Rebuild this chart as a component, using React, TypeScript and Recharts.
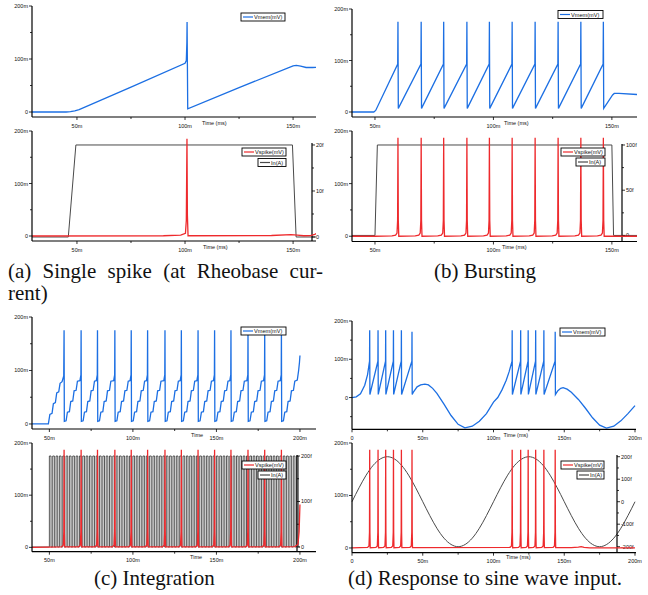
import React from 'react';
import { LineChart, Line, XAxis, YAxis } from 'recharts';

type P = [number, number];

const BLUE = '#1c6fe3';
const RED = '#ee2a2d';
const GREY = '#4a4a4a';
const PULSE = '#2e2e2e';
const FONT = '"Liberation Sans", Arial, sans-serif';
const SERIF = '"Liberation Serif", "Times New Roman", serif';

// ================= (a) Single spike =================
const aVmem: P[] = [
  [29.2, 0], [45, 0], [47, 0.6], [49, 2], [51, 4.5], [75, 47], [100, 92], [100.6, 97],
  [100.85, 130], [100.95, 170], [101.1, 90], [101.25, 6], [125, 46], [150, 87],
  [151.5, 88], [153.5, 86.5], [156, 84], [159, 84], [161, 84.5],
];
const aVspike: P[] = [
  [29.2, 0], [90, 0.5], [98, 1.5], [100.2, 5], [100.6, 30], [100.9, 185], [101.1, 40], [101.4, 0.5],
  [140, 1], [149, 2.5], [152, 1.5], [155, 0.5], [158, 0.8], [160, 3], [161, 5],
];
const aIn: P[] = [[29.2, 0], [46, 0], [49.5, 20], [149.7, 20], [151.4, 0], [160.6, 0]];

// ================= (b) Bursting =================
const bVmem: P[] = [
  [40.3, 0], [49.5, 0], [50.3, 3],
  [59.6, 93], [59.7, 175], [59.85, 7],
  [69.4, 93], [69.5, 175], [69.65, 7],
  [78.9, 93], [79.0, 175], [79.15, 7],
  [88.7, 93], [88.8, 175], [88.95, 7],
  [98.2, 93], [98.3, 175], [98.45, 7],
  [107.8, 93], [107.9, 175], [108.05, 7],
  [117.5, 93], [117.6, 175], [117.75, 7],
  [127.2, 93], [127.3, 175], [127.45, 7],
  [136.8, 93], [136.9, 175], [137.05, 7],
  [146.3, 93], [146.4, 175], [146.55, 7],
  [150.3, 33], [151, 36], [153, 36], [160.6, 34],
];
const bSpikeTimes = [59.7, 69.5, 79.0, 88.8, 98.3, 107.9, 117.6, 127.3, 136.9, 146.4];
const bSpikeShape: P[] = [[-2.5, 0.5], [-1, 2], [-0.4, 6], [-0.15, 30], [0, 187], [0.15, 30], [0.35, 0]];
const bIn: P[] = [[40.3, 0], [50, 0], [51, 100], [150, 100], [150.7, 0], [160.6, 0]];

// ================= (c) Integration =================
const cSpikeTimes = [58.8, 69.0, 78.8, 89.2, 99.0, 108.8, 119.2, 129.0, 139.0, 148.9, 158.7, 168.9, 178.9, 188.9];
const cVmemOnset: P[] = [
  [39.6, 0], [49.4, 0], [50.3, 18], [51.6, 20], [52.4, 38], [53.6, 40], [54.4, 58], [55.6, 60],
  [56.4, 76], [57.6, 79], [58.6, 90],
];
const cStairAfterSpike: P[] = [[0.15, 5], [1.2, 6], [2.0, 22], [3.2, 23], [4.0, 42], [5.2, 43], [6.0, 62], [7.2, 63], [8.0, 80]];
const cStairBeforeSpike: P[] = [[-0.7, 81], [-0.12, 92]];
const cVmemPeak = 175;
const cVmemEnd: P[] = [[198.4, 82], [199.2, 100], [199.7, 115], [200, 128]];
const cSpikeShape: P[] = [[-1.5, 1], [-0.5, 4], [-0.15, 30], [0, 187], [0.15, 30], [0.35, 1]];
const cVspikeStart: P[] = [[39.6, 0], [49.5, 0.5]];
const cVspikeEnd: P[] = [[197, 1.5], [198.8, 6], [199.5, 30], [200, 82]];
const cPulseOnsets = [
  50, 52, 54, 56, 58, 60, 62, 64, 66, 68, 70, 72, 74, 76, 78, 80, 82, 84, 86, 88, 90, 92, 94, 96, 98,
  100, 102, 104, 106, 108, 110, 112, 114, 116, 118, 120, 122, 124, 126, 128, 130, 132, 134, 136, 138,
  140, 142, 144, 146, 148, 150, 152, 154, 156, 158, 160, 162, 164, 166, 168, 170, 172, 174, 176, 178,
  180, 182, 184, 186, 188, 190, 192, 194, 196, 198,
];
const cPulseWidth = 1;
const cPulseHigh = 200;

// ================= (d) Sine input =================
const dVmem: P[] = [
  [0, 0], [3, 2], [6, 10], [9, 32], [11, 60], [12.4, 95], [12.5, 176], [12.65, 8],
  [18.3, 95], [18.4, 176], [18.55, 8],
  [23.7, 95], [23.8, 176], [23.95, 8],
  [29.2, 95], [29.3, 176], [29.45, 8],
  [34.8, 95], [34.9, 176], [35.05, 8],
  [42.3, 95], [42.4, 172], [42.55, 8],
  [43.5, 15], [46, 28], [48.5, 33], [51.5, 35], [54, 33], [57, 24], [60, 11], [65, -17], [70, -47],
  [75, -70], [79.8, -79], [85, -75], [90, -62], [95, -42], [100, -12], [103, 0], [106, 20], [109, 45],
  [111, 67], [113.1, 95], [113.2, 176], [113.35, 8],
  [119.1, 95], [119.2, 176], [119.35, 8],
  [124.4, 95], [124.5, 176], [124.65, 8],
  [129.7, 95], [129.8, 176], [129.95, 8],
  [135.5, 95], [135.6, 176], [135.75, 8],
  [143.5, 95], [143.6, 172], [143.75, 8],
  [145.5, 18], [147.5, 24], [149.2, 26], [152, 22], [155, 14], [160, -5], [165, -28], [170, -53],
  [175, -72], [179.8, -80], [185, -75], [190, -61], [195, -42], [200, -21],
];
const dSpikeTimes = [12.5, 18.4, 23.8, 29.3, 34.9, 42.4, 113.2, 119.2, 124.5, 129.8, 135.6, 143.6];
const dSpikeShape: P[] = [[-1.5, 1], [-0.5, 4], [-0.15, 30], [0, 187], [0.15, 30], [0.35, 0.5]];
const dVspikeStart: P[] = [[0, 0]];
const dVspikeEnd: P[] = [[155, 0.5], [160, 1.5], [162, 2.5], [164, 1], [168, 0.3], [200, 0.3]];
const dInTime = [
  0, 5, 10, 15, 20, 25, 30, 35, 40, 45, 50, 55, 60, 65, 70, 75, 80, 85, 90, 95, 100,
  105, 110, 115, 120, 125, 130, 135, 140, 145, 150, 155, 160, 165, 170, 175, 180, 185, 190, 195, 200,
];
const dInCurrent = [
  0, 62, 118, 162, 190, 200, 190, 162, 118, 62, 0, -62, -118, -162, -190, -200, -190, -162, -118, -62, 0,
  62, 118, 162, 190, 200, 190, 162, 118, 62, 0, -62, -118, -162, -190, -200, -190, -162, -118, -62, 0,
];

// ================= ticks =================
const xTicksAB = [50, 75, 100, 125, 150];
const xMajorsAB = [50, 100, 150];
const xTicksC = [50, 75, 100, 125, 150, 175, 200];
const xMajorsC = [50, 100, 150, 200];
const xTicksD = [0, 25, 50, 75, 100, 125, 150, 175, 200];
const xMajorsD = [0, 50, 100, 150, 200];
const yTicksV = [0, 50, 100, 150, 200];
const yTicksVD = [-50, 0, 50, 100, 150, 200];
const yMajorsV = [0, 100, 200];
const rTicksA = [0, 5, 10, 15, 20];
const rMajorsA = [0, 10, 20];
const rTicksB = [0, 25, 50, 75, 100];
const rMajorsB = [0, 50, 100];
const rTicksC = [0, 50, 100, 150, 200];
const rMajorsC = [0, 100, 200];
const rTicksD = [-200, -150, -100, -50, 0, 50, 100, 150, 200];
const rMajorsD = [-200, -100, 0, 100, 200];

// ================= table builders =================
const spikeTrain = (start: P[], times: number[], shape: P[], end: P[]): P[] => [
  ...start,
  ...times.flatMap((s) => shape.map(([dt, v]) => [s + dt, v] as P)),
  ...end,
];

const buildStairs = (): P[] => {
  const out: P[] = [...cVmemOnset];
  cSpikeTimes.forEach((s, i) => {
    if (i > 0) cStairBeforeSpike.forEach(([dt, v]) => out.push([s + dt, v]));
    out.push([s, cVmemPeak]);
    cStairAfterSpike.forEach(([dt, v]) => out.push([s + dt, v]));
  });
  return [...out, ...cVmemEnd];
};

const buildPulses = (): P[] => [
  [39.6, 0],
  ...cPulseOnsets.flatMap((t) => [[t, 0], [t, cPulseHigh], [t + cPulseWidth, cPulseHigh], [t + cPulseWidth, 0]] as P[]),
  [200, 0],
];

const bVspike = spikeTrain([[40.3, 0], [50, 0]], bSpikeTimes, bSpikeShape, [[160.6, 0]]);
const cVmem = buildStairs();
const cVspike = spikeTrain(cVspikeStart, cSpikeTimes, cSpikeShape, cVspikeEnd);
const cIn = buildPulses();
const dVspike = spikeTrain(dVspikeStart, dSpikeTimes, dSpikeShape, dVspikeEnd);
const dIn: P[] = dInTime.map((t, i) => [t, dInCurrent[i]]);

// ================= rendering helpers =================
const fmtM = (v: number) => (v === 0 ? '0' : `${v}m`);
const fmtF = (v: number) => (v === 0 ? '0' : `${v}f`);

const PADL = 30;
const PADT = 8;
const PADR = 6;
const PADB = 16;
const RW = 28;

const makeTick = (side: 'left' | 'right' | 'bottom', majors: number[], fmt: (v: number) => string) =>
  (props: any) => {
    const { x, y, payload } = props;
    const v = payload.value as number;
    const major = majors.includes(v);
    const len = major ? 3 : 2;
    const common = { fontSize: 5.5, fontFamily: FONT, fill: '#111' };
    if (side === 'bottom') {
      return (
        <g>
          <line x1={x} x2={x} y1={y} y2={y + len} stroke="#000" strokeWidth={0.8} />
          {major && (
            <text x={x} y={y + 10.5} textAnchor="middle" {...common}>
              {fmt(v)}
            </text>
          )}
        </g>
      );
    }
    if (side === 'left') {
      return (
        <g>
          <line x1={x - len} x2={x} y1={y} y2={y} stroke="#000" strokeWidth={0.8} />
          {major && (
            <text x={x - 4} y={y + 2} textAnchor="end" {...common}>
              {fmt(v)}
            </text>
          )}
        </g>
      );
    }
    return (
      <g>
        <line x1={x} x2={x + len} y1={y} y2={y} stroke="#000" strokeWidth={0.8} />
        {major && (
          <text x={x + 4} y={y + 2} textAnchor="start" {...common}>
            {fmt(v)}
          </text>
        )}
      </g>
    );
  };

interface S {
  data: P[];
  color: string;
  w?: number;
  curve?: 'linear' | 'monotone';
}

const rows = (d: P[]) => d.map(([t, v]) => ({ t, v }));

const renderLines = (series: S[]) =>
  series.map((s, i) => (
    <Line
      key={i}
      data={rows(s.data)}
      dataKey="v"
      type={s.curve ?? 'linear'}
      stroke={s.color}
      strokeWidth={s.w ?? 1.3}
      dot={false}
      activeDot={false}
      isAnimationActive={false}
    />
  ));

const axisLine = { stroke: '#000', strokeWidth: 1.2 };

function BaseChart(p: {
  x0: number; x1: number; y0: number; y1: number;
  xd: [number, number]; yd: [number, number];
  xTicks: number[]; xMajors: number[]; yTicks: number[]; yMajors: number[];
  series: S[];
}) {
  const w = PADL + (p.x1 - p.x0) + PADR;
  const h = PADT + (p.y1 - p.y0) + PADB;
  return (
    <div style={{ position: 'absolute', left: p.x0 - PADL, top: p.y0 - PADT, width: w, height: h }}>
      <LineChart width={w} height={h} margin={{ top: PADT, right: PADR, bottom: 0, left: 0 }}>
        <XAxis
          type="number" dataKey="t" domain={p.xd} allowDataOverflow ticks={p.xTicks} interval={0}
          height={PADB} axisLine={axisLine} tickLine={false} tickSize={0} tickMargin={0}
          tick={makeTick('bottom', p.xMajors, fmtM)}
        />
        <YAxis
          type="number" domain={p.yd} allowDataOverflow ticks={p.yTicks} interval={0}
          width={PADL} axisLine={axisLine} tickLine={false} tickSize={0} tickMargin={0}
          tick={makeTick('left', p.yMajors, fmtM)}
        />
        {renderLines(p.series)}
      </LineChart>
    </div>
  );
}

function RightChart(p: {
  x0: number; x1: number; xr: number; yr0: number; y1: number;
  xd: [number, number]; rd: [number, number];
  rTicks: number[]; rMajors: number[]; series: S[];
}) {
  const w = PADL + (p.xr - p.x0) + RW;
  const h = PADT + (p.y1 - p.yr0) + PADB;
  return (
    <div style={{ position: 'absolute', left: p.x0 - PADL, top: p.yr0 - PADT, width: w, height: h }}>
      <LineChart width={w} height={h} margin={{ top: PADT, right: 0, bottom: PADB, left: PADL }}>
        <XAxis type="number" dataKey="t" domain={p.xd} hide padding={{ left: 0, right: -(p.x1 - p.xr) }} />
        <YAxis
          orientation="right" type="number" domain={p.rd} ticks={p.rTicks} interval={0}
          width={RW} axisLine={axisLine} tickLine={false} tickSize={0} tickMargin={0}
          tick={makeTick('right', p.rMajors, fmtF)}
        />
        {renderLines(p.series)}
      </LineChart>
    </div>
  );
}

const legendBoxes = [
  { x: 241, y: 13, w: 44, color: BLUE, label: 'Vmem(mV)' },
  { x: 242, y: 148, w: 44, color: RED, label: 'Vspike(mV)' },
  { x: 258, y: 158.5, w: 28, color: GREY, label: 'In(A)' },
  { x: 558, y: 10.5, w: 45, color: BLUE, label: 'Vmem(mV)' },
  { x: 561, y: 148, w: 44, color: RED, label: 'Vspike(mV)' },
  { x: 576, y: 158, w: 29, color: GREY, label: 'In(A)' },
  { x: 241, y: 327, w: 45, color: BLUE, label: 'Vmem(mV)' },
  { x: 242, y: 461, w: 44, color: RED, label: 'Vspike(mV)' },
  { x: 258, y: 471, w: 28, color: GREY, label: 'In(A)' },
  { x: 560, y: 328, w: 45, color: BLUE, label: 'Vmem(mV)' },
  { x: 561, y: 461, w: 43, color: RED, label: 'Vspike(mV)' },
  { x: 577, y: 471, w: 27, color: GREY, label: 'In(A)' },
];

const timeLabels = [
  { x: 202, y: 125.3, text: 'Time (ms)' },
  { x: 203, y: 249.3, text: 'Time (ms)' },
  { x: 504, y: 124.7, text: 'Time (ms)' },
  { x: 502, y: 248.7, text: 'Time (ms)' },
  { x: 191, y: 437, text: 'Time' },
  { x: 190, y: 559, text: 'Time' },
  { x: 503.5, y: 437, text: 'Time (ms)' },
  { x: 506, y: 559, text: 'Time (ms)' },
];

const captionStyle: React.CSSProperties = {
  position: 'absolute',
  fontFamily: SERIF,
  fontSize: 21,
  lineHeight: '20px',
  color: '#111',
  whiteSpace: 'nowrap',
};

export default function App() {
  const xdA: [number, number] = [29.2, 160.6];
  const xdB: [number, number] = [40.3, 160.6];
  const xdC: [number, number] = [39.6, 209.6];
  const xdD: [number, number] = [0, 200.7];
  return (
    <div style={{ position: 'absolute', left: 0, top: 0, width: 648, height: 595, background: '#fff', overflow: 'hidden' }}>
      {/* (a) */}
      <BaseChart x0={32} x1={316} y0={6} y1={117} xd={xdA} yd={[-9.4, 200]}
        xTicks={xTicksAB} xMajors={xMajorsAB} yTicks={yTicksV} yMajors={yMajorsV}
        series={[{ data: aVmem, color: BLUE }]} />
      <RightChart x0={32} x1={316} xr={312} yr0={143} y1={241} xd={xdA} rd={[-0.87, 20.43]}
        rTicks={rTicksA} rMajors={rMajorsA} series={[{ data: aIn, color: GREY, w: 1 }]} />
      <BaseChart x0={32} x1={316} y0={131} y1={241} xd={xdA} yd={[-9.5, 200]}
        xTicks={xTicksAB} xMajors={xMajorsAB} yTicks={yTicksV} yMajors={yMajorsV}
        series={[{ data: aVspike, color: RED }]} />

      {/* (b) */}
      <BaseChart x0={352} x1={637} y0={9} y1={117} xd={xdB} yd={[-9.7, 200]}
        xTicks={xTicksAB} xMajors={xMajorsAB} yTicks={yTicksV} yMajors={yMajorsV}
        series={[{ data: bVmem, color: BLUE }]} />
      <RightChart x0={352} x1={637} xr={622} yr0={144} y1={241.5} xd={xdB} rd={[-6.7, 101.1]}
        rTicks={rTicksB} rMajors={rMajorsB} series={[{ data: bIn, color: GREY, w: 1 }]} />
      <BaseChart x0={352} x1={637} y0={131} y1={241.5} xd={xdB} yd={[-10, 200]}
        xTicks={xTicksAB} xMajors={xMajorsAB} yTicks={yTicksV} yMajors={yMajorsV}
        series={[{ data: bVspike, color: RED }]} />

      {/* (c) */}
      <BaseChart x0={32} x1={316} y0={317} y1={429} xd={xdC} yd={[-9.4, 200]}
        xTicks={xTicksC} xMajors={xMajorsC} yTicks={yTicksV} yMajors={yMajorsV}
        series={[{ data: cVmem, color: BLUE }]} />
      <RightChart x0={32} x1={316} xr={297} yr0={455} y1={552} xd={xdC} rd={[-11, 202.2]}
        rTicks={rTicksC} rMajors={rMajorsC} series={[{ data: cIn, color: PULSE, w: 0.8 }]} />
      <BaseChart x0={32} x1={316} y0={443.3} y1={552} xd={xdC} yd={[-8.3, 200]}
        xTicks={xTicksC} xMajors={xMajorsC} yTicks={yTicksV} yMajors={yMajorsV}
        series={[{ data: cVspike, color: RED }]} />

      {/* (d) */}
      <BaseChart x0={352} x1={636} y0={320.7} y1={429} xd={xdD} yd={[-83, 200]}
        xTicks={xTicksD} xMajors={xMajorsD} yTicks={yTicksVD} yMajors={yMajorsV}
        series={[{ data: dVmem, color: BLUE }]} />
      <RightChart x0={352} x1={636} xr={617} yr0={455} y1={553} xd={xdD} rd={[-228, 207.6]}
        rTicks={rTicksD} rMajors={rMajorsD} series={[{ data: dIn, color: GREY, w: 1, curve: 'monotone' }]} />
      <BaseChart x0={352} x1={636} y0={443.3} y1={553} xd={xdD} yd={[-9, 200]}
        xTicks={xTicksD} xMajors={xMajorsD} yTicks={yTicksV} yMajors={yMajorsV}
        series={[{ data: dVspike, color: RED }]} />

      {/* legends and axis titles */}
      <svg width={648} height={595} style={{ position: 'absolute', left: 0, top: 0, pointerEvents: 'none' }}>
        {legendBoxes.map((b, i) => (
          <g key={i}>
            <rect x={b.x} y={b.y} width={b.w} height={8} fill="#fff" stroke="#000" strokeWidth={0.9} />
            <line x1={b.x + 2} x2={b.x + 12} y1={b.y + 4} y2={b.y + 4} stroke={b.color} strokeWidth={1.2} />
            <text x={b.x + 13} y={b.y + 6} fontSize={5.6} fontFamily={FONT} fill="#111">{b.label}</text>
          </g>
        ))}
        {timeLabels.map((t, i) => (
          <text key={i} x={t.x} y={t.y} fontSize={5.5} fontFamily={FONT} fill="#111">{t.text}</text>
        ))}
      </svg>

      {/* captions */}
      <div style={{ ...captionStyle, left: 8, top: 261, width: 315, textAlign: 'justify', textAlignLast: 'justify', whiteSpace: 'normal' }}>
        (a) Single spike (at Rheobase cur-
      </div>
      <div style={{ ...captionStyle, left: 8, top: 283 }}>rent)</div>
      <div style={{ ...captionStyle, left: 434, top: 261 }}>(b) Bursting</div>
      <div style={{ ...captionStyle, left: 94, top: 568 }}>(c) Integration</div>
      <div style={{ ...captionStyle, left: 348, top: 568 }}>(d) Response to sine wave input.</div>
    </div>
  );
}
